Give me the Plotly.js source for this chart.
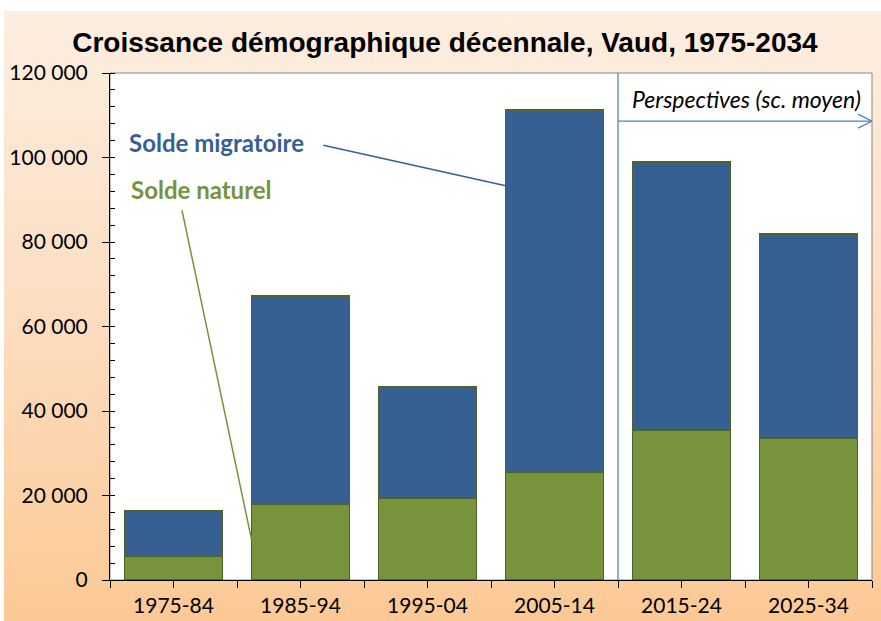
<!DOCTYPE html>
<html><head><meta charset="utf-8">
<script src="https://cdn.plot.ly/plotly-3.0.1.min.js"></script>
<style>
html,body{margin:0;padding:0;background:#fff;width:881px;height:621px;overflow:hidden}
#bg{position:absolute;left:4px;top:11px;width:877px;height:610px;background:linear-gradient(to bottom,#FDEEE1 0%,#FCDDC0 50%,#FCC995 100%)}
#chart{position:absolute;left:0;top:0;width:881px;height:621px}
</style></head>
<body><div id="bg"></div><div id="chart"></div>
<script>
const categories = ['1975-84','1985-94','1995-04','2005-14','2015-24','2025-34'];
const soldeNaturel = [5600, 18000, 19400, 25500, 35500, 33600];
const soldeMigratoire = [10700, 49200, 26300, 85700, 63400, 48300];
const yTicks = [0, 20000, 40000, 60000, 80000, 100000, 120000];

const xIdx = categories.map((c,i)=>i);
const lineStyle = {color:'#4F6228', width:1.5};

const traces = [
  {type:'bar', name:'Solde naturel', x:xIdx, y:soldeNaturel, marker:{color:'#77933C', line:lineStyle}, hoverinfo:'skip'},
  {type:'bar', name:'Solde migratoire', x:xIdx, y:soldeMigratoire, marker:{color:'#376092', line:lineStyle}, hoverinfo:'skip'}
];

const fam = 'Lato, "Open Sans", sans-serif';
const layout = {
  width:881, height:621,
  margin:{l:110, r:9, t:73, b:41},
  paper_bgcolor:'rgba(0,0,0,0)', plot_bgcolor:'#ffffff',
  barmode:'stack', bargap:0.23,
  showlegend:false,
  separators:', ',
  title:{text:'<b>Croissance démographique décennale, Vaud, 1975-2034</b>', font:{family:'"Liberation Sans", Arial, sans-serif', size:28, color:'#000'}, x:0.505, xanchor:'center', y:0.932, yanchor:'middle'},
  xaxis:{type:'linear', range:[-0.5,5.5], tickvals:xIdx, ticktext:categories, ticks:'outside', ticklen:7, tickcolor:'#000',
    showline:true, linecolor:'#000', linewidth:1, showgrid:false, zeroline:false, tickfont:{family:fam, size:21, color:'#000'},
    minor:{tick0:-0.5, dtick:0.5, ticks:'outside', ticklen:7, tickcolor:'#000', showgrid:false}},
  yaxis:{range:[0,120000], tickvals:yTicks, tickformat:',d', ticks:'outside', ticklen:7, tickcolor:'#000',
    showline:true, linecolor:'#000', linewidth:1, showgrid:false, zeroline:false, tickfont:{family:fam, size:21, color:'#000'}, ticklabelstandoff:10,
    minor:{dtick:4000, ticks:'inside', ticklen:5, tickcolor:'#000', showgrid:false}},
  shapes:[
    {type:'rect', xref:'paper', yref:'paper', x0:0, x1:1, y0:0, y1:1, line:{color:'#868686', width:1}, layer:'below'},
    {type:'line', xref:'x', yref:'y', x0:3.5, x1:3.5, y0:0, y1:120000, line:{color:'#4F81BD', width:1.25}},
    {type:'line', xref:'x', yref:'y', x0:3.5, x1:5.5, y0:108600, y1:108600, line:{color:'#4F81BD', width:1.25}},
    {type:'path', xref:'x', yref:'y', xsizemode:'pixel', ysizemode:'pixel', xanchor:5.5, yanchor:108600, path:'M-14,-7 L0,0 L-14,7', line:{color:'#4F81BD', width:1.25}},
    {type:'line', xref:'x', yref:'y', x0:1.18, x1:2.615, y0:102900, y1:93300, line:{color:'#376092', width:1.5}},
    {type:'line', xref:'x', yref:'y', x0:0.067, x1:0.615, y0:87500, y1:9500, line:{color:'#77933C', width:1.5}}
  ],
  annotations:[
    {text:'<b>Solde migratoire</b>', xref:'paper', yref:'paper', x:0.022, y:0.862, xanchor:'left', yanchor:'middle', showarrow:false, font:{family:fam, size:24, color:'#376092'}},
    {text:'<b>Solde naturel</b>', xref:'paper', yref:'paper', x:0.025, y:0.77, xanchor:'left', yanchor:'middle', showarrow:false, font:{family:fam, size:24, color:'#77933C'}},
    {text:'<i>Perspectives (sc. moyen)</i>', xref:'paper', yref:'paper', x:0.683, y:0.948, xanchor:'left', yanchor:'middle', showarrow:false, font:{family:fam, size:23, color:'#000'}}
  ]
};
Plotly.newPlot('chart', traces, layout, {displayModeBar:false, staticPlot:true});
</script></body></html>
